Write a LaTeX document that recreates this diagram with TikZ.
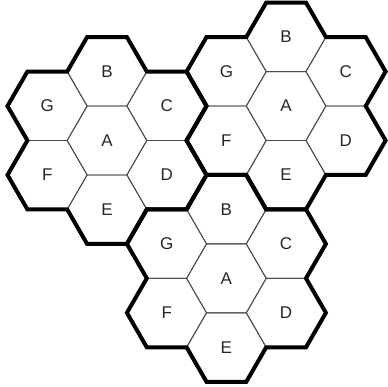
\documentclass[tikz,border=0pt]{standalone}
\usepackage{fontspec}
\setsansfont{Liberation Sans}
\usetikzlibrary{calc}

\begin{document}
\begin{tikzpicture}[x=1pt, y=1pt,
    cellline/.style={draw=black!70, line width=0.9pt},
    rimline/.style={draw=black, line width=4pt, line join=miter},
    letter/.style={font=\sffamily\fontsize{17}{17}\selectfont, text=black!85, inner sep=0pt}]
  \def\R{39.8}
  \def\H{68.93}
  \useasboundingbox (0,0) rectangle (388,387);
  % cluster centres
  \coordinate (west) at (107,246.5);
  \coordinate (east) at ($(west)+(4.5*\R,0.5*\H)$);
  \coordinate (south) at ($(west)+(3*\R,-2*\H)$);
  \foreach \cl in {west,east,south} {
    % cell centres
    \coordinate (\cl-A) at (\cl);
    \foreach \ang/\name in {90/B,30/C,-30/D,-90/E,-150/F,150/G}
      \coordinate (\cl-\name) at ($(\cl)+(\ang:\H)$);
    % thin cells and letters
    \foreach \name in {A,B,C,D,E,F,G} {
      \draw[cellline] ($(\cl-\name)+(0:\R)$)
        \foreach \a in {60,120,...,300} { -- ($(\cl-\name)+(\a:\R)$) } -- cycle;
      \node[letter] (\cl-\name-txt) at (\cl-\name) {\name};
    }
    % thick outline of the cluster
    \draw[rimline] ($(\cl)+(30:\H)+(-60:\R)$)
      \foreach \t in {30,90,...,270} {
        \foreach \v in {-30,30,90} { -- ($(\cl)+(\t:\H)+(\t+\v:\R)$) }
      } -- ($(\cl)+(330:\H)+(300:\R)$) -- ($(\cl)+(330:\H)+(0:\R)$) -- cycle;
  }
\end{tikzpicture}
\end{document}
